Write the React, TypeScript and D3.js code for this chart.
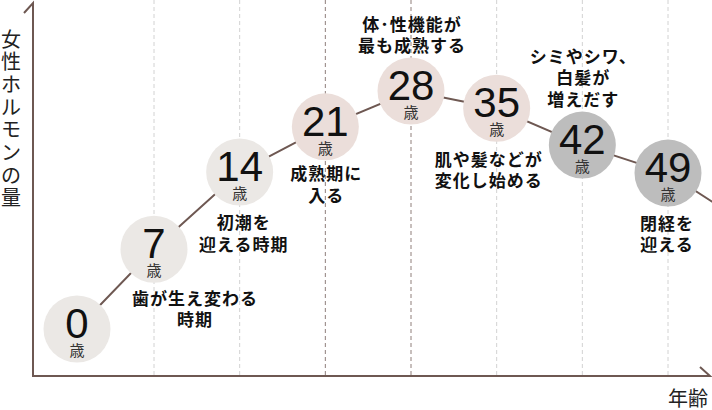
import React from 'react';
import * as d3 from 'd3';

// 年齢（歳）と女性ホルモン量（相対値）
const ages = [0, 7, 14, 21, 28, 35, 42, 49];
const hormone = [12.6, 34.0, 54.7, 66.8, 76.4, 71.8, 61.9, 54.4];
// 49歳以降も減少が続く（右端へ抜ける線）
const tailAge = 56;
const tailHormone = 39.5;

const phases = ['child', 'child', 'child', 'mature', 'mature', 'mature', 'decline', 'decline'];
const notes = [
  [],
  ['歯が生え変わる', '時期'],
  ['初潮を', '迎える時期'],
  ['成熟期に', '入る'],
  ['体･性機能が', '最も成熟する'],
  ['肌や髪などが', '変化し始める'],
  ['シミやシワ、', '白髪が', '増えだす'],
  ['閉経を', '迎える'],
];
const gridAges = [7, 14, 21, 28, 35, 42, 49];
const strongGrid = [21, 28];
const yTitle = '女性ホルモンの量';
const xTitle = '年齢';
const unit = '歳';

// layout
const W = 712;
const H = 410;
const AXIS_X = 33;
const AXIS_Y = 376;
const TOP = 3;
const R = 33.5;
const LINE_H = 21.5;
// label placement: [dx, dy of first line center] relative to circle
const noteOffset: [number, number][] = [
  [0, 0], [41, 48], [4, 50], [1, 46], [1, -68], [-8, 50], [1, -90], [-1, 49],
];

const PHASE_FILL: Record<string, string> = {
  child: '#ebe8e5',
  mature: '#ebdeda',
  decline: '#bdbdbd',
};
const BROWN = '#6e5852';
const JP = "'Noto Sans CJK JP', 'Noto Sans', sans-serif";
const NUM = "'Liberation Sans', Arial, sans-serif";

export default function App() {
  React.useEffect(() => {
    document.body.style.margin = '0';
  }, []);

  const x = d3.scaleLinear().domain([0, 7, 49]).range([77, 154, 668]);
  const y = d3.scaleLinear().domain([0, 100]).range([AXIS_Y, TOP]);

  const pts = ages.map((a, i) => ({ a, v: hormone[i], i }));
  const linePts = [...pts.map(p => [p.a, p.v]), [tailAge, tailHormone]] as [number, number][];
  const path = d3.line<[number, number]>()
    .x(d => x(d[0]))
    .y(d => y(d[1]))(linePts) || '';

  return (
    <svg width={W} height={H} style={{ display: 'block' }}>
      <defs>
        <clipPath id="plot">
          <rect x={0} y={0} width={W} height={AXIS_Y} />
        </clipPath>
      </defs>

      {/* grid */}
      {gridAges.map(a => {
        const strong = strongGrid.includes(a);
        return (
          <line
            key={a}
            x1={x(a)} x2={x(a)} y1={0} y2={AXIS_Y}
            stroke={strong ? '#8f7f7b' : '#d2d2d2'}
            strokeWidth={1}
            strokeDasharray="4 3"
          />
        );
      })}

      {/* axes */}
      <path
        d={`M${AXIS_X - 9},${TOP + 10}L${AXIS_X},${TOP}V${AXIS_Y}H${W - 2}L${W - 12},${AXIS_Y - 9}`}
        fill="none"
        stroke={BROWN}
        strokeWidth={2}
      />

      {/* trend line */}
      <path d={path} fill="none" stroke={BROWN} strokeWidth={2} clipPath="url(#plot)" />

      {/* circles */}
      {pts.map(p => {
        const cx = x(p.a);
        const cy = y(p.v);
        return (
          <g key={p.a}>
            <circle cx={cx} cy={cy} r={R} fill={PHASE_FILL[phases[p.i]]} />
            <text
              x={cx} y={cy + 9}
              textAnchor="middle"
              fontFamily={NUM}
              fontSize={42}
              fill="#111"
            >{p.a}</text>
            <text
              x={cx} y={cy + 27}
              textAnchor="middle"
              fontFamily={JP}
              fontSize={15}
              fill="#333"
            >{unit}</text>
          </g>
        );
      })}

      {/* notes */}
      {pts.map(p => {
        const lines = notes[p.i];
        const [dx, dy] = noteOffset[p.i];
        const cx = x(p.a) + dx;
        const cy = y(p.v) + dy;
        return lines.map((t, k) => (
          <text
            key={`${p.a}-${k}`}
            x={cx}
            y={cy + k * LINE_H}
            textAnchor="middle"
            dominantBaseline="central"
            fontFamily={JP}
            fontWeight={700}
            fontSize={17}
            letterSpacing={1}
            fill="#111"
          >{t}</text>
        ));
      })}

      {/* axis titles */}
      {Array.from(yTitle).map((ch, i) => (
        <text
          key={i}
          x={11}
          y={38 + i * 22.7}
          textAnchor="middle"
          dominantBaseline="central"
          fontFamily={JP}
          fontSize={20}
          fill="#222"
        >{ch}</text>
      ))}
      <text
        x={688}
        y={397}
        textAnchor="middle"
        dominantBaseline="central"
        fontFamily={JP}
        fontSize={20}
        fill="#222"
      >{xTitle}</text>
    </svg>
  );
}
